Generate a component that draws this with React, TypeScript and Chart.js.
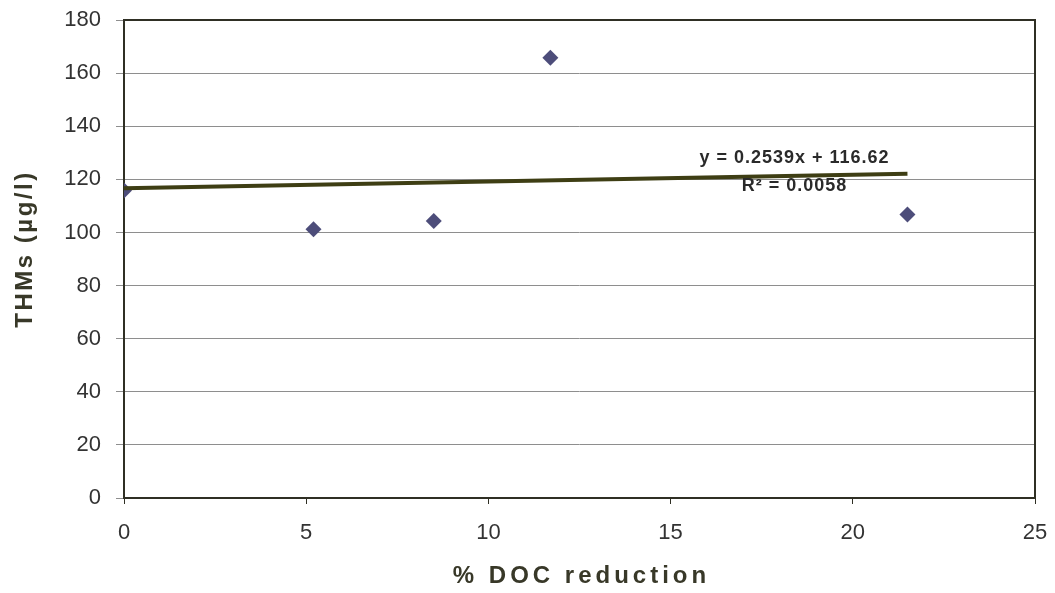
import React, { useEffect, useRef } from "react";
import { Chart, registerables } from "chart.js";

Chart.register(...registerables);

// ---- data ----
const docReduction = [0, 5.2, 8.5, 11.7, 21.5];
const thms = [115.8, 101.2, 104.3, 165.8, 106.8];
const trendX = [0, 21.5];
const trendY = [116.62, 122.08];
const equationText = "y = 0.2539x + 116.62";
const r2Text = "R\u00b2 = 0.0058";
const xTitle = "% DOC reduction";
const yTitle = "THMs (\u00b5g/l)";

const FONT = "'Liberation Sans', Arial, Helvetica, sans-serif";
const BORDER = "#2f2f24";
const GRID = "#8e8e8e";
const TEXT = "#333333";
const TITLE = "#383828";
const POINT = "#4d4d7a";
const TREND = "#3e3e14";

const overlay = {
  id: "overlay",
  beforeDatasetsDraw(chart: any) {
    const { ctx, chartArea: a } = chart;
    ctx.save();
    ctx.strokeStyle = BORDER;
    ctx.lineWidth = 2;
    ctx.strokeRect(a.left, a.top, a.right - a.left, a.bottom - a.top);
    ctx.restore();
  },
  afterDraw(chart: any) {
    const { ctx, chartArea: a, scales } = chart;
    ctx.save();
    // x title
    ctx.fillStyle = TITLE;
    ctx.font = `bold 24px ${FONT}`;
    ctx.textAlign = "center";
    ctx.textBaseline = "middle";
    (ctx as any).letterSpacing = "4px";
    ctx.fillText(xTitle, (a.left + a.right) / 2 + 2, 576);
    // y title
    (ctx as any).letterSpacing = "2.5px";
    ctx.translate(25, 250);
    ctx.rotate(-Math.PI / 2);
    ctx.fillText(yTitle, 1, 0);
    ctx.restore();

    // equation
    ctx.save();
    ctx.fillStyle = "#2a2a2a";
    ctx.font = `bold 18px ${FONT}`;
    ctx.textAlign = "center";
    ctx.textBaseline = "middle";
    (ctx as any).letterSpacing = "1px";
    const ex = scales.x.getPixelForValue(18.4);
    ctx.fillText(equationText, ex, scales.y.getPixelForValue(128));
    ctx.fillText(r2Text, ex, scales.y.getPixelForValue(117.5));
    ctx.restore();
  },
};

export default function App() {
  const ref = useRef<HTMLCanvasElement>(null);
  useEffect(() => {
    document.body.style.margin = "0";
    const chart = new Chart(ref.current!, {
      type: "scatter",
      data: {
        datasets: [
          {
            type: "line",
            data: trendX.map((x, i) => ({ x, y: trendY[i] })),
            borderColor: TREND,
            borderWidth: 4,
            pointRadius: 0,
            fill: false,
          } as any,
          {
            data: docReduction.map((x, i) => ({ x, y: thms[i] })),
            pointStyle: "rectRot",
            pointRadius: 8,
            backgroundColor: POINT,
            borderColor: POINT,
            borderWidth: 0,
          },
        ],
      },
      plugins: [overlay],
      options: {
        responsive: false,
        animation: false,
        layout: { padding: { top: 20, right: 20, left: 0, bottom: 0 } },
        plugins: { legend: { display: false }, tooltip: { enabled: false } },
        scales: {
          x: {
            type: "linear",
            position: "bottom",
            min: 0,
            max: 25,
            ticks: { stepSize: 5, padding: 16, color: TEXT, font: { family: FONT, size: 22 } },
            grid: { drawOnChartArea: false, drawTicks: true, tickLength: 6, color: BORDER, lineWidth: 1 },
            border: { display: false },
            afterFit: (s: any) => {
              s.height = 95;
              s.paddingLeft = 0;
              s.paddingRight = 0;
            },
          },
          y: {
            type: "linear",
            min: 0,
            max: 180,
            ticks: { stepSize: 20, padding: 15, color: TEXT, font: { family: FONT, size: 22 } },
            grid: { drawOnChartArea: true, drawTicks: true, tickLength: 8, color: GRID, lineWidth: 1 },
            border: { display: false },
            afterFit: (s: any) => {
              s.width = 124;
              s.paddingTop = 0;
              s.paddingBottom = 0;
            },
          },
        },
      },
    });
    return () => chart.destroy();
  }, []);
  return (
    <div style={{ width: 1055, height: 593 }}>
      <canvas ref={ref} width={1055} height={593} />
    </div>
  );
}
